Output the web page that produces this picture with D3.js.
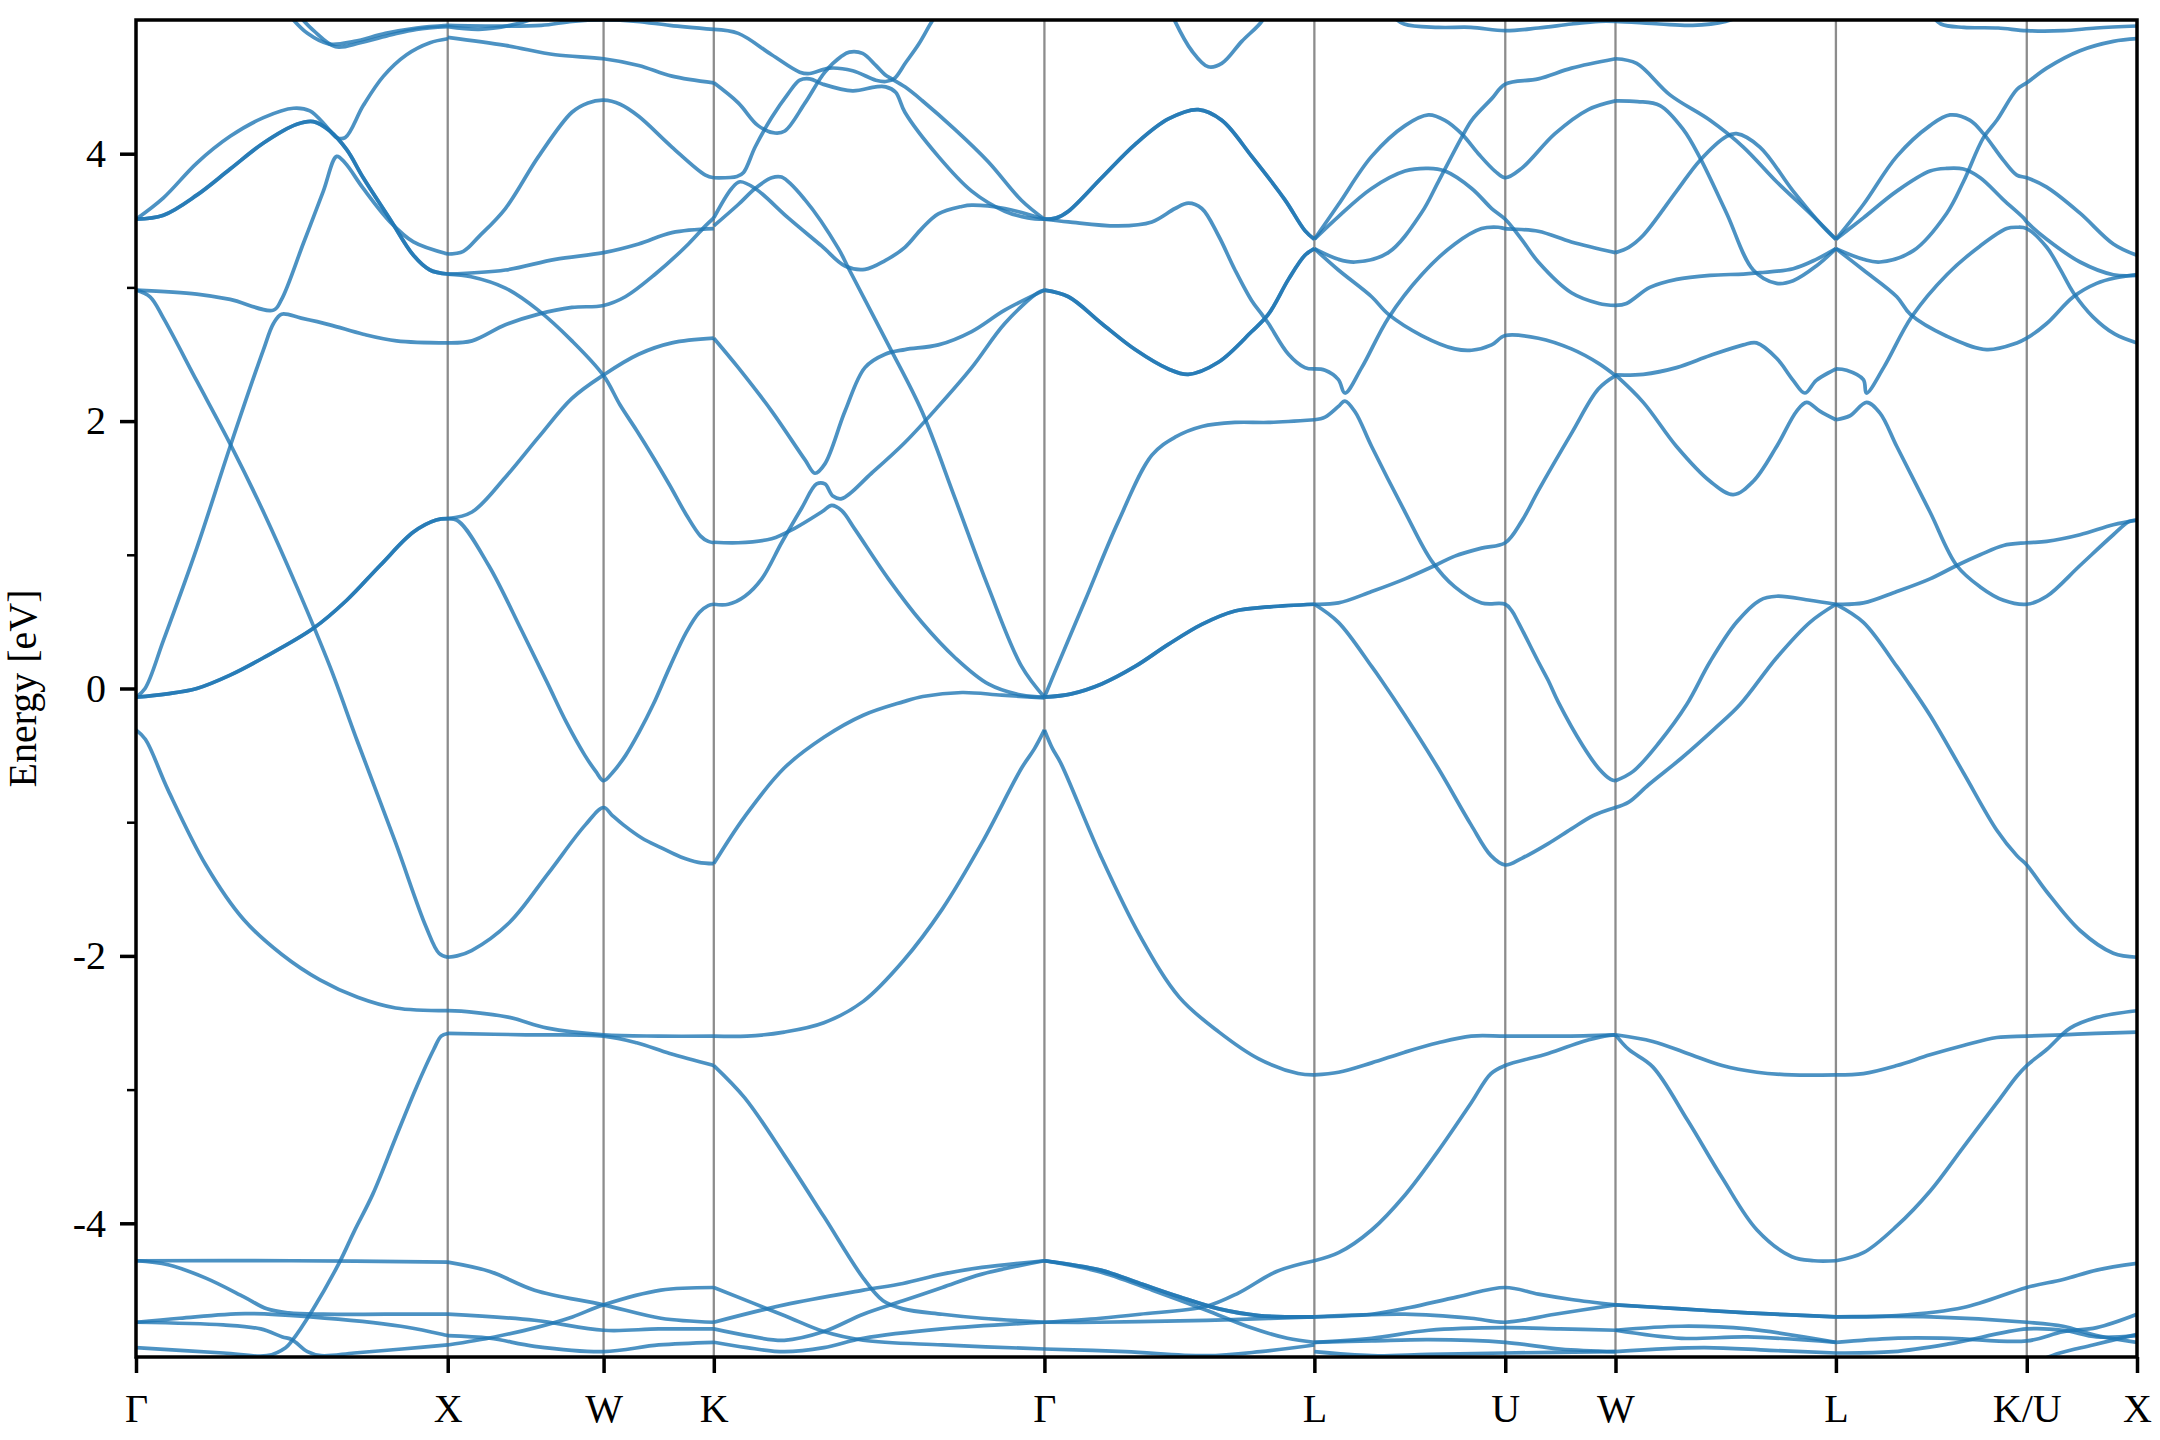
<!DOCTYPE html>
<html><head><meta charset="utf-8">
<script src="https://cdn.jsdelivr.net/npm/d3@7"></script>
<style>html,body{margin:0;padding:0;background:#fff}</style>
</head><body><svg id="c" width="2160" height="1440"></svg>
<script>
// ---------- data ----------
const kLabels = ["Γ","X","W","K","Γ","L","U","W","L","K/U","X"];
const kDist = [0, 1, 1.5, 1.8536, 2.9142, 3.7802, 4.3926, 4.7462, 5.4533, 6.0656, 6.4192];
const majorE = [-4,-2,0,2,4];
const minorE = [-3,-1,1,3];
const eRange = [-5, 5];

// points are [path coordinate (node index + fraction), energy eV]
// Γ–X
const gx1 = [[0,3.51],[.088,3.67],[.195,3.93],[.302,4.13],[.409,4.27],[.505,4.34],[.558,4.32],[.612,4.20],[.644,4.12],[.671,4.12],[.729,4.36],[.794,4.58],[.868,4.74],[.943,4.83],[1,4.86]];
const gx2 = [[0,3.51],[.088,3.54],[.195,3.69],[.302,3.885],[.409,4.08],[.516,4.22],[.569,4.24],[.622,4.17],[.676,4.03],[.729,3.82],[.815,3.51],[.89,3.24],[.943,3.13],[1,3.10]];
const gx3 = [[0,2.98],[.195,2.95],[.302,2.91],[.441,2.83],[.467,2.91],[.537,3.33],[.601,3.72],[.644,3.98],[.671,3.93],[.729,3.74],[.815,3.49],[.89,3.34],[1,3.25]];
const gx4 = [[0,-0.065],[.029,0.0],[.088,0.36],[.195,1.05],[.302,1.81],[.409,2.535],[.441,2.73],[.467,2.80],[.53,2.77],[.622,2.72],[.729,2.65],[.836,2.60],[1,2.585]];
const gx5 = [[0,2.98],[.045,2.93],[.088,2.77],[.195,2.30],[.302,1.83],[.409,1.32],[.516,0.76],[.622,0.165],[.711,-0.40],[.833,-1.155],[.930,-1.78],[.972,-1.98],[1,-2.01]];
const gx6 = [[0,-0.065],[.1,-0.04],[.195,0.0],[.302,0.10],[.409,0.23],[.569,0.45],[.676,0.66],[.783,0.92],[.89,1.17],[.963,1.26],[1,1.27]];
const gx7 = [[0,-0.31],[.03,-0.38],[.103,-0.76],[.224,-1.32],[.346,-1.73],[.468,-1.99],[.59,-2.18],[.711,-2.31],[.833,-2.39],[1,-2.41]];
const gxTop1 = [[.49,5.04],[.55,4.90],[.62,4.82],[.70,4.84],[.80,4.90],[.9,4.94],[1,4.96]];
const gxTop2 = [[.52,5.04],[.57,4.92],[.64,4.80],[.72,4.83],[.82,4.89],[.9,4.93],[1,4.95]];
const gxLow1 = [[0,-4.28],[.5,-4.28],[1,-4.29]];
const gxLow2 = [[0,-4.28],[.103,-4.31],[.224,-4.41],[.346,-4.55],[.42,-4.64],[.49,-4.67],[.6,-4.68],[.8,-4.68],[1,-4.68]];
const gxLow3 = [[0,-4.74],[.14,-4.71],[.35,-4.675],[.56,-4.70],[.85,-4.77],[1,-4.84]];
const gxLow4 = [[0,-4.74],[.28,-4.76],[.40,-4.79],[.47,-4.85],[.50,-4.87],[.55,-4.96],[.594,-4.99],[.70,-4.97],[.853,-4.94],[1,-4.91]];
const gxLow5 = [[0,-4.93],[.28,-4.97],[.42,-4.99],[.48,-4.93],[.50,-4.88],[.566,-4.65],[.651,-4.30],[.70,-4.06],[.76,-3.78],[.833,-3.36],[.90,-2.98],[.955,-2.70],[.979,-2.60],[1,-2.58]];

// X–W–K
const xkTop1 = [[1,4.96],[1.3,4.955],[1.6,4.96],[1.8,4.99],[2,5.0],[2.3,4.99],[2.6,4.96],[3,4.93]];
const xkTop2 = [[1,4.95],[1.2,4.93],[1.4,4.96],[1.55,5.01],[1.65,5.06]];
const xk3 = [[1,4.87],[1.37,4.81],[1.69,4.74],[2,4.71],[2.318,4.66],[2.62,4.58],[3,4.53]];
const xk4 = [[1,3.25],[1.1,3.27],[1.2,3.38],[1.37,3.59],[1.583,3.98],[1.797,4.31],[1.9,4.38],[2,4.40],[2.15,4.37],[2.318,4.28],[2.62,4.05],[2.924,3.84],[3,3.82]];
const xk5 = [[1,3.10],[1.37,3.13],[1.69,3.21],[2,3.26],[2.318,3.325],[2.62,3.41],[3,3.44]];
const xk6 = [[1,3.10],[1.15,3.08],[1.37,2.995],[1.58,2.83],[1.797,2.60],[2,2.34],[2.15,2.12],[2.3,1.93],[2.45,1.73],[2.6,1.52],[2.75,1.30],[2.88,1.14],[2.95,1.10],[3,1.09]];
const xk7 = [[1,2.585],[1.156,2.60],[1.37,2.72],[1.583,2.80],[1.797,2.85],[2,2.865],[2.197,2.93],[2.47,3.10],[2.77,3.325],[2.924,3.46],[3,3.52]];
const xk8 = [[1,1.27],[1.156,1.32],[1.37,1.58],[1.583,1.88],[1.797,2.17],[2,2.345],[2.318,2.50],[2.62,2.585],[3,2.62]];
const xk9 = [[1,1.27],[1.07,1.25],[1.263,0.92],[1.476,0.43],[1.64,0.04],[1.76,-0.25],[1.88,-0.50],[1.95,-0.62],[2,-0.69],[2.08,-0.63],[2.2,-0.50],[2.32,-0.33],[2.45,-0.12],[2.6,0.16],[2.75,0.42],[2.87,0.57],[2.95,0.62],[3,0.63]];
const xk10 = [[1,-2.01],[1.06,-2.00],[1.153,-1.96],[1.396,-1.75],[1.64,-1.39],[1.883,-1.02],[2,-0.89],[2.08,-0.95],[2.18,-1.02],[2.35,-1.12],[2.52,-1.19],[2.7,-1.26],[2.86,-1.30],[3,-1.31]];
const xk11 = [[1,-2.41],[1.153,-2.42],[1.396,-2.46],[1.64,-2.54],[2,-2.59],[2.5,-2.60],[3,-2.60]];
const xk12 = [[1,-2.58],[1.5,-2.59],[2,-2.60],[2.3,-2.65],[2.6,-2.73],[3,-2.82]];
const xkLow1 = [[1,-4.29],[1.27,-4.36],[1.557,-4.50],[2,-4.61],[2.52,-4.71],[3,-4.74]];
const xkLow2 = [[1,-4.68],[1.557,-4.725],[2,-4.80],[2.5,-4.79],[3,-4.79]];
const xkLow3 = [[1,-4.84],[1.27,-4.86],[1.557,-4.92],[2,-4.96],[2.5,-4.91],[3,-4.89]];
const xkLow4 = [[1,-4.91],[1.3,-4.85],[1.565,-4.78],[1.8,-4.70],[2,-4.61],[2.52,-4.50],[3,-4.48]];

// K–Γ
const kgP = [[3,4.93],[3.074,4.90],[3.175,4.74],[3.26,4.61],[3.29,4.60],[3.35,4.64],[3.42,4.62],[3.49,4.55],[3.52,4.54],[3.545,4.56],[3.58,4.68],[3.62,4.82],[3.66,4.99],[3.68,5.06]];
const kgQ = [[3,4.53],[3.074,4.38],[3.134,4.21],[3.185,4.155],[3.215,4.17],[3.276,4.38],[3.336,4.61],[3.387,4.73],[3.41,4.76],[3.45,4.75],[3.49,4.66],[3.518,4.59],[3.538,4.56],[3.578,4.50],[3.629,4.40],[3.73,4.18],[3.83,3.94],[3.931,3.65],[4,3.51]];
const kgR = [[3,3.82],[3.07,3.83],[3.09,3.86],[3.125,4.05],[3.175,4.27],[3.225,4.45],[3.26,4.55],[3.29,4.56],[3.33,4.52],[3.42,4.47],[3.49,4.50],[3.52,4.50],[3.55,4.46],[3.578,4.31],[3.679,3.98],[3.78,3.72],[3.88,3.57],[3.95,3.52],[4,3.51]];
const kgU = [[3,3.52],[3.054,3.74],[3.079,3.79],[3.125,3.74],[3.225,3.52],[3.326,3.31],[3.397,3.16],[3.457,3.135],[3.518,3.20],[3.578,3.30],[3.629,3.44],[3.679,3.55],[3.75,3.605],[3.78,3.615],[3.88,3.59],[4,3.51]];
const kgD = [[3,3.46],[3.074,3.62],[3.125,3.74],[3.175,3.82],[3.205,3.825],[3.276,3.655],[3.377,3.29],[3.407,3.145],[3.528,2.57],[3.629,2.075],[3.73,1.42],[3.83,0.76],[3.931,0.165],[4,-0.065]];
const kgC = [[3,2.62],[3.074,2.40],[3.175,2.075],[3.276,1.71],[3.306,1.61],[3.336,1.68],[3.397,2.075],[3.457,2.40],[3.518,2.50],[3.578,2.535],[3.679,2.57],[3.78,2.67],[3.88,2.83],[4,2.98]];
const kgB = [[3,1.094],[3.074,1.09],[3.175,1.12],[3.246,1.20],[3.326,1.32],[3.357,1.37],[3.387,1.33],[3.427,1.19],[3.528,0.82],[3.629,0.495],[3.73,0.23],[3.83,0.034],[3.93,-0.05],[4,-0.065]];
const kgA = [[3,0.63],[3.044,0.63],[3.094,0.69],[3.145,0.82],[3.205,1.09],[3.266,1.35],[3.311,1.53],[3.336,1.53],[3.36,1.44],[3.387,1.42],[3.477,1.61],[3.578,1.84],[3.679,2.11],[3.78,2.40],[3.88,2.73],[3.98,2.96],[4,2.98]];
const kgE = [[3,-1.31],[3.093,-0.96],[3.213,-0.595],[3.333,-0.365],[3.452,-0.20],[3.572,-0.10],[3.632,-0.06],[3.751,-0.03],[3.871,-0.05],[4,-0.07]];
const kgF = [[3,-2.60],[3.1,-2.60],[3.213,-2.57],[3.333,-2.50],[3.452,-2.34],[3.572,-2.04],[3.691,-1.65],[3.811,-1.155],[3.931,-0.595],[3.97,-0.45],[4,-0.31]];
const kgG = [[3,-2.82],[3.093,-3.06],[3.213,-3.49],[3.333,-3.95],[3.452,-4.41],[3.512,-4.58],[3.572,-4.64],[3.691,-4.68],[3.811,-4.71],[4,-4.74]];
const kgH = [[3,-4.48],[3.213,-4.69],[3.333,-4.81],[3.452,-4.875],[3.691,-4.91],[4,-4.94]];
const kgI = [[3,-4.74],[3.213,-4.61],[3.452,-4.50],[3.572,-4.45],[3.691,-4.38],[3.811,-4.33],[4,-4.28]];
const kgJ = [[3,-4.79],[3.1,-4.84],[3.213,-4.875],[3.333,-4.81],[3.452,-4.68],[3.572,-4.58],[3.691,-4.48],[3.811,-4.38],[4,-4.28]];
const kgK = [[3,-4.89],[3.1,-4.93],[3.213,-4.96],[3.333,-4.93],[3.452,-4.86],[3.691,-4.79],[4,-4.74]];

// Γ–L
const glTop = [[4.47,5.06],[4.484,4.99],[4.546,4.77],[4.607,4.65],[4.657,4.675],[4.731,4.84],[4.805,4.99],[4.82,5.06]];
const gl1 = [[4,3.51],[4.045,3.52],[4.089,3.57],[4.212,3.82],[4.336,4.07],[4.459,4.26],[4.57,4.33],[4.657,4.25],[4.768,3.98],[4.891,3.655],[4.965,3.425],[5,3.36]];
const gl2 = [[4,3.51],[4.089,3.49],[4.274,3.46],[4.398,3.49],[4.484,3.59],[4.533,3.63],[4.583,3.59],[4.644,3.39],[4.706,3.13],[4.768,2.90],[4.805,2.80],[4.83,2.73],[4.904,2.50],[4.965,2.40],[5,2.39]];
const gl3 = [[4,2.98],[4.089,2.93],[4.212,2.73],[4.336,2.535],[4.459,2.39],[4.533,2.35],[4.644,2.44],[4.768,2.67],[4.83,2.80],[4.904,3.06],[4.965,3.24],[5,3.29]];
const gl4 = [[4,-0.065],[4.04,0.13],[4.151,0.66],[4.274,1.25],[4.398,1.745],[4.484,1.88],[4.583,1.96],[4.706,1.99],[4.83,1.99],[5,2.01]];
const gl5 = [[4,-0.065],[4.1,-0.04],[4.212,0.034],[4.336,0.165],[4.459,0.33],[4.583,0.48],[4.706,0.58],[4.83,0.61],[5,0.63]];
const gl6 = [[4,-0.31],[4.03,-0.45],[4.061,-0.56],[4.208,-1.25],[4.354,-1.85],[4.5,-2.31],[4.647,-2.57],[4.794,-2.77],[4.94,-2.88],[5,-2.89]];
const gl7 = [[4,-4.28],[4.208,-4.35],[4.354,-4.45],[4.5,-4.55],[4.647,-4.64],[4.794,-4.69],[5,-4.70]];
const gl8 = [[4,-4.74],[4.208,-4.71],[4.354,-4.68],[4.6,-4.62],[4.72,-4.52],[4.86,-4.36],[5,-4.28]];
const gl9 = [[4,-4.74],[4.2,-4.74],[4.5,-4.73],[4.7,-4.72],[5,-4.70]];
const gl10 = [[4,-4.28],[4.2,-4.36],[4.4,-4.50],[4.6,-4.65],[4.75,-4.77],[4.9,-4.86],[5,-4.89]];
const gl11 = [[4,-4.94],[4.3,-4.96],[4.6,-4.99],[4.8,-4.96],[5,-4.91]];

// L–U–W
const luTop = [[5.4,5.04],[5.47,4.97],[5.65,4.945],[5.82,4.945],[6,4.92],[6.3,4.94],[6.6,4.97],[6.85,4.99],[7,4.99],[7.2,4.97],[7.35,4.96],[7.5,4.99],[7.6,5.05]];
const lu1 = [[5,3.36],[5.126,3.62],[5.30,3.98],[5.475,4.21],[5.597,4.29],[5.684,4.25],[5.771,4.15],[5.859,4.00],[5.946,3.87],[6,3.82],[6.148,3.89],[6.451,4.15],[6.753,4.33],[7,4.395]];
const lu2 = [[5,3.36],[5.126,3.53],[5.30,3.74],[5.475,3.87],[5.597,3.89],[5.684,3.87],[5.824,3.74],[5.929,3.59],[6,3.51],[6.148,3.36],[6.3,3.19],[6.6,2.96],[6.85,2.88],[7,2.865]];
const lu3 = [[5,3.29],[5.126,3.21],[5.213,3.19],[5.387,3.26],[5.562,3.56],[5.649,3.79],[5.771,4.12],[5.824,4.25],[5.928,4.41],[6,4.52],[6.3,4.56],[6.602,4.64],[7,4.71]];
const lu4 = [[5,3.29],[5.126,3.13],[5.30,2.93],[5.387,2.80],[5.562,2.64],[5.736,2.54],[5.824,2.53],[5.928,2.57],[6,2.64],[6.3,2.62],[6.6,2.54],[6.85,2.43],[7,2.34]];
const lu5 = [[5,2.39],[5.056,2.38],[5.126,2.31],[5.16,2.21],[5.248,2.40],[5.387,2.77],[5.562,3.095],[5.736,3.325],[5.876,3.44],[5.963,3.45],[6,3.44],[6.3,3.42],[6.6,3.34],[7,3.26]];
const lu6 = [[5,2.01],[5.056,2.03],[5.126,2.11],[5.16,2.15],[5.213,2.07],[5.30,1.81],[5.475,1.32],[5.614,0.955],[5.736,0.76],[5.876,0.64],[6,0.63],[6.06,0.58],[6.118,0.495],[6.30,0.20],[6.39,0.06],[6.48,-0.10],[6.705,-0.43],[6.85,-0.60],[6.957,-0.68],[7,-0.69]];
const lu7 = [[5,0.63],[5.126,0.64],[5.30,0.725],[5.475,0.82],[5.632,0.92],[5.736,0.99],[5.876,1.05],[6,1.09],[6.148,1.25],[6.30,1.48],[6.602,1.91],[6.844,2.24],[7,2.34]];
const lu8 = [[5,0.63],[5.126,0.495],[5.30,0.165],[5.352,0.06],[5.474,-0.20],[5.648,-0.595],[5.821,-1.02],[5.925,-1.25],[6,-1.32],[6.15,-1.27],[6.39,-1.16],[6.6,-1.05],[6.8,-0.95],[7,-0.89]];
const lu9 = [[5,-2.89],[5.127,-2.87],[5.30,-2.80],[5.474,-2.72],[5.648,-2.65],[5.821,-2.60],[6,-2.60],[6.5,-2.60],[7,-2.59]];
const lu10 = [[5,-4.28],[5.127,-4.22],[5.30,-4.05],[5.474,-3.79],[5.648,-3.46],[5.821,-3.10],[5.925,-2.88],[6,-2.82],[6.39,-2.73],[6.705,-2.64],[6.9,-2.60],[7,-2.59]];
const lu11 = [[5,-4.70],[5.3,-4.68],[5.5,-4.63],[5.75,-4.55],[6,-4.48],[6.3,-4.53],[6.6,-4.57],[7,-4.61]];
const lu12 = [[5,-4.70],[5.474,-4.68],[5.821,-4.71],[6,-4.74],[6.45,-4.68],[7,-4.61]];
const lu13 = [[5,-4.89],[5.3,-4.86],[5.6,-4.80],[6,-4.78],[6.5,-4.79],[7,-4.80]];
const lu14 = [[5,-4.89],[5.3,-4.88],[5.6,-4.87],[6,-4.89],[6.5,-4.94],[7,-4.96]];
const lu15 = [[5,-4.96],[5.3,-4.99],[5.6,-4.98],[6,-4.97],[7,-4.96]];

// W–L
const wl1 = [[7,4.71],[7.096,4.675],[7.247,4.44],[7.429,4.25],[7.58,4.05],[7.731,3.79],[7.882,3.555],[8,3.36]];
const wl2 = [[7,4.395],[7.1,4.39],[7.202,4.36],[7.308,4.18],[7.383,3.97],[7.504,3.555],[7.625,3.13],[7.731,3.03],[7.806,3.05],[7.911,3.16],[8,3.29]];
const wl3 = [[7,3.26],[7.06,3.30],[7.126,3.39],[7.277,3.72],[7.383,3.95],[7.504,4.13],[7.549,4.15],[7.655,4.05],[7.806,3.72],[7.958,3.425],[8,3.36]];
const wl4 = [[7,2.865],[7.05,2.88],[7.156,3.00],[7.277,3.06],[7.429,3.09],[7.58,3.10],[7.655,3.11],[7.806,3.14],[7.911,3.21],[8,3.29]];
const wl5 = [[7,2.345],[7.126,2.35],[7.277,2.40],[7.429,2.49],[7.58,2.57],[7.64,2.585],[7.731,2.47],[7.806,2.305],[7.859,2.21],[7.911,2.305],[8,2.39]];
const wl6 = [[7,2.345],[7.126,2.14],[7.277,1.81],[7.429,1.55],[7.534,1.45],[7.625,1.55],[7.731,1.81],[7.822,2.075],[7.867,2.14],[7.927,2.075],[8,2.01]];
const wl7 = [[7,-0.69],[7.08,-0.62],[7.2,-0.40],[7.323,-0.12],[7.429,0.20],[7.549,0.495],[7.655,0.66],[7.731,0.69],[7.882,0.66],[8,0.63]];
const wl8 = [[7,-0.89],[7.06,-0.85],[7.15,-0.72],[7.3,-0.52],[7.45,-0.30],[7.565,-0.12],[7.731,0.23],[7.882,0.495],[8,0.63]];
const wl9 = [[7,-2.59],[7.169,-2.64],[7.327,-2.73],[7.484,-2.82],[7.642,-2.87],[7.80,-2.89],[8,-2.89]];
const wl10 = [[7,-2.59],[7.06,-2.70],[7.169,-2.83],[7.327,-3.23],[7.484,-3.66],[7.642,-4.05],[7.80,-4.25],[7.9,-4.28],[8,-4.28]];
const wl11 = [[7,-4.61],[7.3,-4.64],[7.6,-4.67],[8,-4.70]];
const wl12 = [[7,-4.80],[7.3,-4.77],[7.6,-4.79],[8,-4.89]];
const wl13 = [[7,-4.80],[7.3,-4.86],[7.6,-4.85],[8,-4.89]];
const wl14 = [[7,-4.96],[7.4,-4.93],[7.7,-4.95],[8,-4.97]];

// L–K/U–X
const lkTop = [[8.5,5.04],[8.55,4.97],[8.67,4.945],[8.85,4.94],[9,4.92],[9.33,4.92],[9.63,4.94],[10,4.955]];
const lk1 = [[8,3.36],[8.144,3.62],[8.319,3.98],[8.493,4.21],[8.598,4.29],[8.703,4.25],[8.773,4.15],[8.878,3.95],[8.948,3.84],[9,3.82],[9.181,3.75],[9.483,3.555],[9.785,3.325],[10,3.24]];
const lk2 = [[8,3.36],[8.144,3.52],[8.319,3.72],[8.493,3.87],[8.581,3.89],[8.668,3.885],[8.756,3.82],[8.878,3.655],[8.983,3.52],[9,3.49],[9.181,3.36],[9.483,3.19],[9.785,3.095],[10,3.09]];
const lk3 = [[8,3.29],[8.144,3.21],[8.231,3.19],[8.406,3.275],[8.581,3.555],[8.668,3.79],[8.773,4.12],[8.843,4.25],[8.948,4.48],[9,4.53],[9.181,4.64],[9.483,4.77],[9.785,4.84],[10,4.86]];
const lk4 = [[8,3.29],[8.144,3.13],[8.319,2.93],[8.389,2.80],[8.581,2.635],[8.79,2.535],[8.948,2.585],[9,2.62],[9.181,2.73],[9.423,2.93],[9.634,3.03],[9.8,3.07],[10,3.095]];
const lk5 = [[8,2.39],[8.056,2.38],[8.144,2.31],[8.16,2.21],[8.25,2.40],[8.397,2.78],[8.581,3.095],[8.756,3.31],[8.895,3.44],[8.95,3.45],[9,3.44],[9.181,3.30],[9.3,3.14],[9.423,2.96],[9.6,2.78],[9.8,2.65],[10,2.585]];
const lk6 = [[8,2.01],[8.074,2.04],[8.161,2.14],[8.231,2.06],[8.319,1.81],[8.493,1.32],[8.633,0.92],[8.756,0.76],[8.878,0.66],[9,0.63],[9.181,0.69],[9.483,0.92],[9.785,1.15],[9.93,1.25],[10,1.26]];
const lk7 = [[8,0.63],[8.144,0.64],[8.319,0.725],[8.493,0.82],[8.633,0.92],[8.756,1.00],[8.878,1.07],[9,1.09],[9.181,1.10],[9.483,1.15],[9.785,1.225],[10,1.26]];
const lk8 = [[8,0.63],[8.144,0.495],[8.319,0.165],[8.371,0.06],[8.493,-0.20],[8.668,-0.63],[8.843,-1.06],[8.948,-1.25],[9,-1.32],[9.181,-1.52],[9.483,-1.81],[9.785,-1.98],[10,-2.01]];
const lk9 = [[8,-2.89],[8.144,-2.88],[8.319,-2.82],[8.493,-2.74],[8.668,-2.67],[8.843,-2.61],[9,-2.60],[9.33,-2.59],[9.63,-2.58],[10,-2.57]];
const lk10 = [[8,-4.28],[8.144,-4.22],[8.319,-4.02],[8.493,-3.76],[8.668,-3.43],[8.843,-3.10],[8.948,-2.90],[9,-2.82],[9.181,-2.70],[9.393,-2.54],[9.634,-2.46],[10,-2.41]];
const lk11 = [[8,-4.70],[8.319,-4.69],[8.668,-4.63],[9,-4.48],[9.33,-4.42],[9.634,-4.35],[10,-4.30]];
const lk12 = [[8,-4.70],[8.5,-4.70],[9,-4.74],[9.33,-4.77],[9.634,-4.84],[10,-4.89]];
const lk13 = [[8,-4.89],[8.3,-4.86],[8.6,-4.86],[9,-4.88],[9.33,-4.81],[9.634,-4.78],[10,-4.68]];
const lk14 = [[8,-4.97],[8.3,-4.96],[8.6,-4.90],[9,-4.79],[9.33,-4.80],[9.634,-4.85],[10,-4.84]];
const lk15 = [[9.1,-5.03],[9.3,-4.97],[9.6,-4.91],[10,-4.83]];

// band list (degenerate bands listed twice)
const bands = [
  gx1, gx2, gx2, gx3, gx4, gx5, gx6, gx6, gx7, gxTop1, gxTop2, gxLow1, gxLow2, gxLow3, gxLow4, gxLow5,
  xkTop1, xkTop2, xk3, xk4, xk5, xk6, xk7, xk8, xk9, xk10, xk11, xk12, xkLow1, xkLow2, xkLow3, xkLow4,
  kgP, kgQ, kgR, kgU, kgD, kgC, kgB, kgA, kgE, kgF, kgG, kgH, kgI, kgJ, kgK,
  glTop, gl1, gl1, gl2, gl3, gl3, gl4, gl5, gl5, gl6, gl7, gl7, gl8, gl9, gl10, gl11,
  luTop, lu1, lu2, lu3, lu4, lu5, lu6, lu7, lu8, lu9, lu10, lu11, lu12, lu13, lu14, lu15,
  wl1, wl2, wl3, wl4, wl5, wl6, wl7, wl8, wl9, wl10, wl11, wl11, wl12, wl13, wl14,
  lkTop, lk1, lk2, lk3, lk4, lk5, lk6, lk7, lk8, lk9, lk10, lk11, lk12, lk13, lk14, lk15
];

// ---------- drawing ----------
const plot = {left: 136, right: 2137, top: 20, bottom: 1357};
const svg = d3.select("#c");
const kScale = d3.scaleLinear().domain([0, kDist[kDist.length-1]]).range([plot.left, plot.right]);
const x = d3.scaleLinear().domain(d3.range(kDist.length)).range(kDist.map(kScale));
const y = d3.scaleLinear().domain(eRange).range([plot.bottom, plot.top]);

svg.append("defs").append("clipPath").attr("id","clip")
  .append("rect").attr("x", plot.left).attr("y", plot.top)
  .attr("width", plot.right - plot.left).attr("height", plot.bottom - plot.top);

// vertical high-symmetry lines
svg.append("g").selectAll("line").data(d3.range(1, kDist.length-1)).join("line")
  .attr("x1", d => x(d)).attr("x2", d => x(d))
  .attr("y1", y(eRange[0])).attr("y2", y(eRange[1]))
  .attr("stroke", "#000").attr("stroke-opacity", 0.45).attr("stroke-width", 2.3);

const line = d3.line().x(d => x(d[0])).y(d => y(d[1])).curve(d3.curveCatmullRom.alpha(0.5));
svg.append("g").attr("clip-path","url(#clip)").selectAll("path").data(bands).join("path")
  .attr("d", line).attr("fill","none")
  .attr("stroke","#1f77b4").attr("stroke-opacity",0.8).attr("stroke-width",3.7)
  .attr("stroke-linejoin","round");

// axes
const font = "'Liberation Serif','Times New Roman',serif";
const xAxis = svg.append("g").attr("transform", `translate(0,${plot.bottom})`)
  .call(d3.axisBottom(x).tickValues(d3.range(kDist.length)).tickFormat(i => kLabels[i]).tickSize(16));
xAxis.select(".domain").remove();
xAxis.selectAll(".tick line").attr("stroke","#000").attr("stroke-width",3.5);
xAxis.selectAll(".tick text").attr("y", 65).attr("dy", null)
  .style("font-family", font).style("font-size","40px").attr("fill","#000");

const yAxis = svg.append("g").attr("transform", `translate(${plot.left},0)`)
  .call(d3.axisLeft(y).tickValues(majorE).tickFormat(d => d < 0 ? "-" + Math.abs(d) : String(d)).tickSize(16).tickPadding(14));
yAxis.select(".domain").remove();
yAxis.selectAll(".tick line").attr("stroke","#000").attr("stroke-width",3.5);
yAxis.selectAll(".tick text").style("font-family", font).style("font-size","40px").attr("fill","#000");

const yMinor = svg.append("g").attr("transform", `translate(${plot.left},0)`)
  .call(d3.axisLeft(y).tickValues(minorE).tickFormat("").tickSize(9));
yMinor.select(".domain").remove();
yMinor.selectAll(".tick line").attr("stroke","#000").attr("stroke-width",2.5);

// frame
svg.append("rect").attr("x", plot.left).attr("y", plot.top)
  .attr("width", plot.right - plot.left).attr("height", plot.bottom - plot.top)
  .attr("fill","none").attr("stroke","#000").attr("stroke-width",3.5);

// y label
svg.append("text").attr("transform", `translate(36,${(plot.top+plot.bottom)/2}) rotate(-90)`)
  .attr("text-anchor","middle").style("font-family", font).style("font-size","40px")
  .text("Energy [eV]");
</script></body></html>
